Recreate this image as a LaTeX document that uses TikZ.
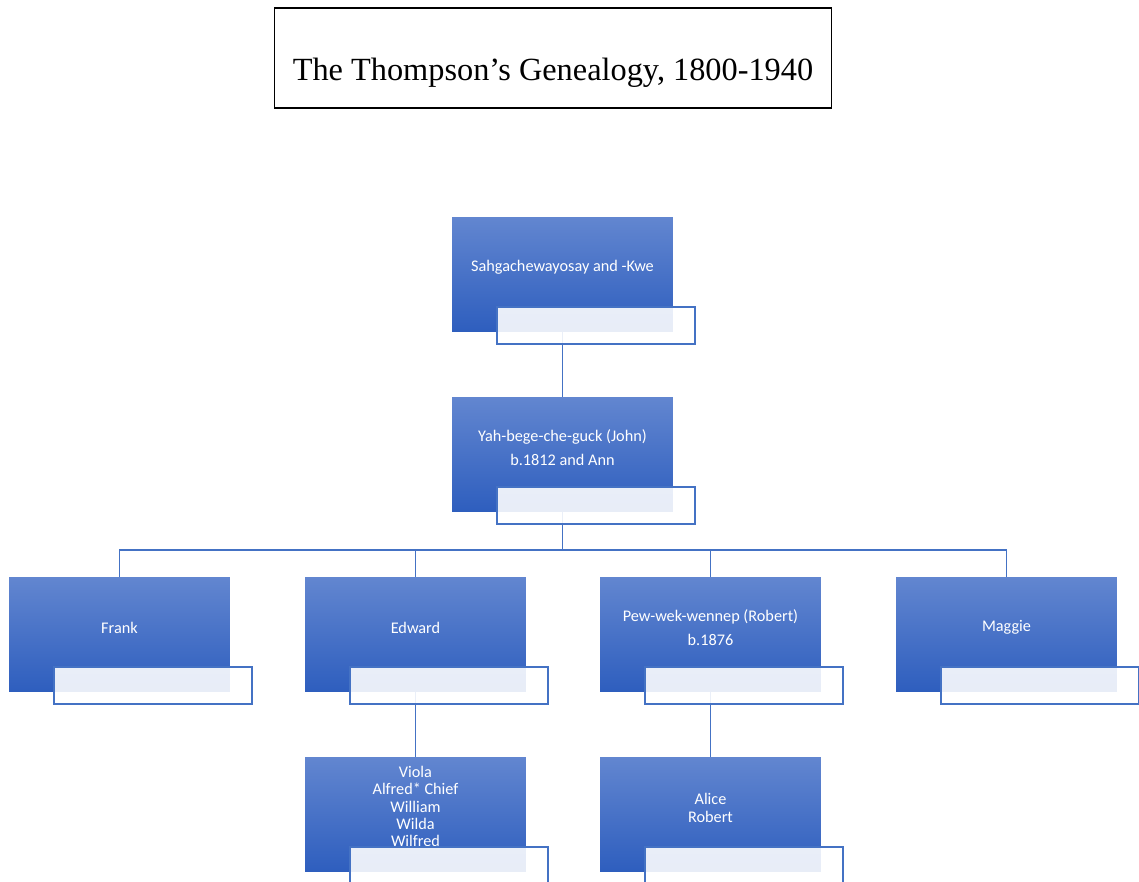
\documentclass[tikz,border=0pt]{standalone}
\usepackage{fontspec}
\setmainfont{Liberation Serif}
\newfontfamily\smartfont{Carlito}
\usetikzlibrary{calc}
\definecolor{boxtop}{RGB}{98,134,208}
\definecolor{boxbot}{RGB}{46,94,190}
\definecolor{tagline}{RGB}{68,114,196}

\begin{document}
\begin{tikzpicture}[x=0.02cm, y=-0.02cm,
  person/.style = {minimum width=4.42cm, minimum height=2.3cm, inner sep=0pt, top color=boxtop, bottom color=boxbot},
  who/.style = {text=white, align=center, font=\smartfont\fontsize{9.25}{13.6}\selectfont},
  tag/.style = {draw=tagline, line width=0.8pt, fill=white, fill opacity=0.89, minimum width=3.96cm, minimum height=0.74cm, inner sep=0pt},
  link/.style = {draw=tagline, line width=0.6pt}]
\useasboundingbox (0,0) rectangle (1139,882);

% title
\node[draw, line width=0.6pt, minimum width=11.16cm, minimum height=2cm] (title) at (553,58) {};
\node[anchor=base, font=\fontsize{18.4}{22}\selectfont] (titletext) at (553,80.5) {The Thompson’s Genealogy, 1800-1940};

% generation 1 and 2
\node[person] (sahg) at (562.5,274.5) {};
\node[who] (sahgtxt) at ($(sahg.center)+(0,-7)$) {Sahgachewayosay and -Kwe};
\node[person] (john) at (562.5,454.5) {};
\node[who] (johntxt) at ($(john.center)+(0,-7)$) {Yah-bege-che-guck (John)\\b.1812 and Ann};

% generation 3
\node[person] (frank) at (119.5,634.5) {};
\node[who] (franktxt) at ($(frank.center)+(0,-7)$) {Frank};
\node[person] (edward) at (415.5,634.5) {};
\node[who] (edwardtxt) at ($(edward.center)+(0,-7)$) {Edward};
\node[person] (robert) at (710.5,634.5) {};
\node[who] (roberttxt) at ($(robert.center)+(0,-7)$) {Pew-wek-wennep (Robert)\\b.1876};
\node[person] (maggie) at (1006.5,634.5) {};
\node[who] (maggietxt) at ($(maggie.center)+(0,-7)$) {Maggie};

% generation 4
\node[person] (edkids) at (415.5,814.5) {};
\node[who, font=\smartfont\fontsize{9.25}{9.8}\selectfont] (edkidstxt) at ($(edkids.center)+(0,-8)$) {Viola\\Alfred* Chief\\William\\Wilda\\Wilfred};
\node[person] (robkids) at (710.5,814.5) {};
\node[who, font=\smartfont\fontsize{9.25}{10.2}\selectfont] (robkidstxt) at ($(robkids.center)+(0,-7)$) {Alice\\Robert};

% lines
\coordinate (bus) at (562.5,550);
\draw[link] (sahg.south) -- (john.north);
\draw[link] (john.south) -- (bus);
\foreach \k in {frank,edward,robert,maggie}
  \draw[link] (bus) -| (\k.north);
\draw[link] (edward.south) -- (edkids.north);
\draw[link] (robert.south) -- (robkids.north);

% empty tags over the boxes
\foreach \p in {sahg,john,frank,edward,robert,maggie,edkids,robkids}
  \node[tag] (\p tag) at ($(\p.center)+(33.5,51)$) {};
\end{tikzpicture}
\end{document}
